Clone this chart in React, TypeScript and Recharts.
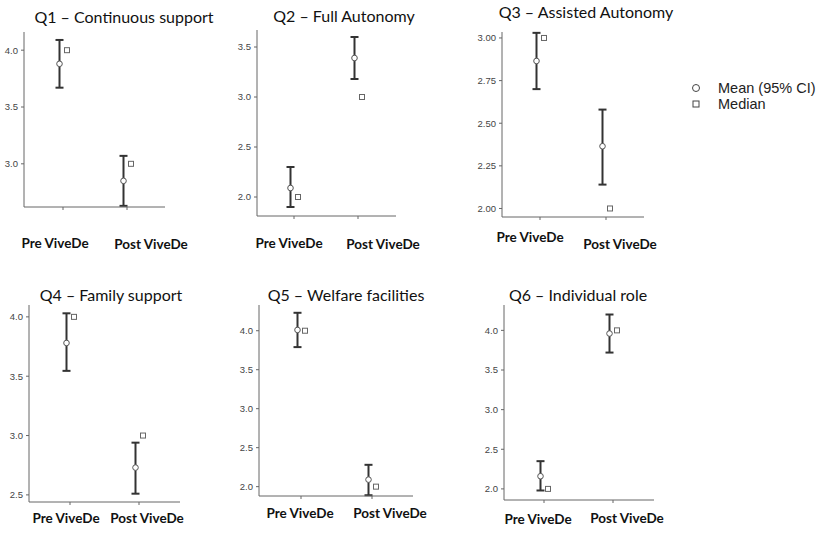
import { ComposedChart, Line, XAxis, YAxis, ErrorBar } from 'recharts';

const categories = ['Pre ViveDe', 'Post ViveDe'];
const titles = [
  'Q1 – Continuous support',
  'Q2 – Full Autonomy',
  'Q3 – Assisted Autonomy',
  'Q4 – Family support',
  'Q5 – Welfare facilities',
  'Q6 – Individual role',
];
const meanPre = [3.88, 2.09, 2.865, 3.78, 4.01, 2.16];
const meanPost = [2.85, 3.39, 2.365, 2.73, 2.09, 3.96];
const lowPre = [3.67, 1.9, 2.7, 3.545, 3.79, 1.98];
const highPre = [4.09, 2.3, 3.03, 4.03, 4.23, 2.35];
const lowPost = [2.63, 3.18, 2.14, 2.51, 1.89, 3.72];
const highPost = [3.07, 3.6, 2.58, 2.94, 2.28, 4.2];
const medianPre = [4, 2, 3, 4, 4, 2];
const medianPost = [3, 3, 2, 3, 2, 4];
const yTicks = [
  [3.0, 3.5, 4.0],
  [2.0, 2.5, 3.0, 3.5],
  [2.0, 2.25, 2.5, 2.75, 3.0],
  [2.5, 3.0, 3.5, 4.0],
  [2.0, 2.5, 3.0, 3.5, 4.0],
  [2.0, 2.5, 3.0, 3.5, 4.0],
];

// plot boxes in page pixels: x0,x1,y0,y1, category tick x, label centres, title centre
const layout = [
  { x0: 24, x1: 165, y0: 32, y1: 207, dom: [2.62, 4.16], t: [63, 127], lab: [[55, 243], [151, 244]], title: [124, 17], dp: 1 },
  { x0: 257, x1: 396, y0: 30, y1: 216, dom: [1.81, 3.67], t: [294, 358], lab: [[289, 243], [383, 244]], title: [344, 16], dp: 1 },
  { x0: 502, x1: 644, y0: 32, y1: 217, dom: [1.95, 3.035], t: [540, 606], lab: [[530, 237], [620, 244]], title: [586, 12], dp: 2 },
  { x0: 29, x1: 180, y0: 305, y1: 502, dom: [2.44, 4.1], t: [70, 139], lab: [[66, 518], [147, 518]], title: [111, 295], dp: 1 },
  { x0: 259, x1: 413, y0: 305, y1: 496, dom: [1.88, 4.33], t: [301, 372], lab: [[300, 513], [390, 513]], title: [346, 295], dp: 1 },
  { x0: 504, x1: 654, y0: 305, y1: 500, dom: [1.86, 4.32], t: [544, 613], lab: [[538, 519], [627, 518]], title: [578, 295], dp: 1 },
];

const TITLE_FONT = 'Lato, "Open Sans", sans-serif';
const MT = 25;
const MR = 40;
const YW = 40;
const XH = 45;

const MeanDot = (p: any) =>
  p.cx == null ? null : <circle cx={p.cx} cy={p.cy} r={2.8} fill="#fff" stroke="#555" strokeWidth={1} />;
const MedianDot = (p: any) =>
  p.cx == null ? null : (
    <rect x={p.cx - 2.5} y={p.cy - 2.5} width={5} height={5} fill="#fff" stroke="#666" strokeWidth={1} />
  );

function Panel({ i }: { i: number }) {
  const L = layout[i];
  const left = L.x0 - YW;
  const top = L.y0 - MT;
  const w = L.x1 - L.x0 + YW + MR;
  const h = L.y1 - L.y0 + MT + XH;
  const data = categories.map((c, k) => {
    const mean = k === 0 ? meanPre[i] : meanPost[i];
    const lo = k === 0 ? lowPre[i] : lowPost[i];
    const hi = k === 0 ? highPre[i] : highPost[i];
    return { group: c, mean, ci: [mean - lo, hi - mean], median: k === 0 ? medianPre[i] : medianPost[i] };
  });
  const pl = L.t[0] - L.x0;
  const pr = L.x1 - L.t[1];

  const Tick = (p: any) => {
    const [lx, ly] = L.lab[p.index];
    return (
      <text
        x={lx - left}
        y={ly - top + 5}
        textAnchor="middle"
        fontFamily={TITLE_FONT}
        fontWeight={700}
        fontSize={13.5}
        fill="#111"
      >
        {p.payload.value}
      </text>
    );
  };

  return (
    <div style={{ position: 'absolute', left, top }}>
      <ComposedChart width={w} height={h} data={data} margin={{ top: MT, right: MR, left: 0, bottom: 0 }}>
        <XAxis
          xAxisId="main"
          dataKey="group"
          type="category"
          scale="point"
          padding={{ left: pl, right: pr }}
          height={XH}
          stroke="#666"
          tickSize={3}
          tick={<Tick />}
          interval={0}
        />
        <XAxis xAxisId="mean" dataKey="group" type="category" scale="point" hide padding={{ left: pl - 3.5, right: pr + 3.5 }} />
        <XAxis xAxisId="median" dataKey="group" type="category" scale="point" hide padding={{ left: pl + 4, right: pr - 4 }} />
        <YAxis
          type="number"
          domain={L.dom}
          ticks={yTicks[i]}
          width={YW}
          stroke="#666"
          tickSize={3}
          tickMargin={3}
          tickFormatter={(v: number) => v.toFixed(L.dp)}
          tick={{ fontSize: 9.5, fill: '#444', fontFamily: 'Liberation Sans, Arial, sans-serif' }}
          allowDataOverflow
        />
        <Line xAxisId="median" dataKey="median" stroke="none" dot={<MedianDot />} activeDot={false} isAnimationActive={false} />
        <Line xAxisId="mean" dataKey="mean" stroke="none" dot={<MeanDot />} activeDot={false} isAnimationActive={false}>
          <ErrorBar dataKey="ci" direction="y" width={4} strokeWidth={2} stroke="#333" />
        </Line>
      </ComposedChart>
    </div>
  );
}

export default function App() {
  return (
    <div style={{ position: 'absolute', left: 0, top: 0, width: 824, height: 534, background: '#fff', overflow: 'hidden' }}>
      {titles.map((t, i) => (
        <div
          key={t}
          style={{
            position: 'absolute',
            left: layout[i].title[0] - 150,
            top: layout[i].title[1] - 11,
            width: 300,
            lineHeight: '22px',
            textAlign: 'center',
            fontFamily: TITLE_FONT,
            fontSize: 16,
            color: '#111',
            whiteSpace: 'nowrap',
          }}
        >
          {t}
        </div>
      ))}
      {layout.map((_, i) => (
        <Panel key={i} i={i} />
      ))}
      <div style={{ position: 'absolute', left: 690, top: 80, fontFamily: 'Liberation Sans, Arial, sans-serif', fontSize: 14.5, color: '#222', lineHeight: '16px' }}>
        <div style={{ display: 'flex', alignItems: 'center' }}>
          <svg width={12} height={12} style={{ marginRight: 16 }}>
            <circle cx={6} cy={6} r={3.5} fill="#fff" stroke="#444" strokeWidth={1} />
          </svg>
          Mean (95% CI)
        </div>
        <div style={{ display: 'flex', alignItems: 'center' }}>
          <svg width={12} height={12} style={{ marginRight: 16 }}>
            <rect x={3} y={3} width={6} height={6} fill="#fff" stroke="#444" strokeWidth={1} />
          </svg>
          Median
        </div>
      </div>
    </div>
  );
}
